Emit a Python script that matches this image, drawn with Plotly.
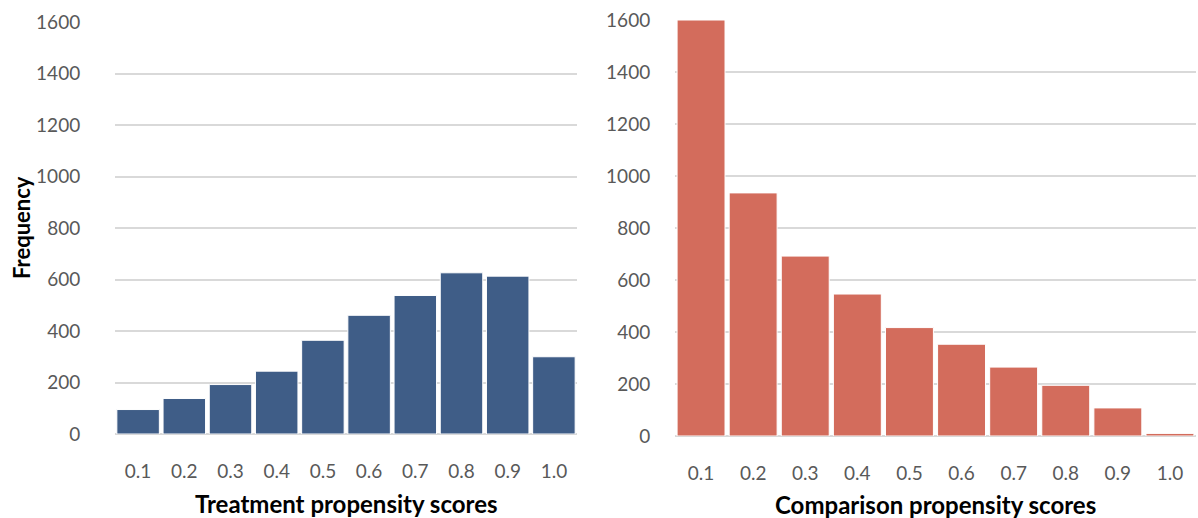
import plotly.graph_objects as go

# Propensity score bins and frequencies
score_bins = ["0.1", "0.2", "0.3", "0.4", "0.5", "0.6", "0.7", "0.8", "0.9", "1.0"]
treatment_freq = [95, 138, 192, 244, 364, 461, 538, 626, 613, 300]
comparison_freq = [1600, 935, 692, 546, 417, 353, 265, 195, 108, 10]
y_ticks = [0, 200, 400, 600, 800, 1000, 1200, 1400, 1600]

W, H = 1198, 518
FONT = "Lato"
TICK_COLOR = "#595959"
GRID = "#D9D9D9"

fig = go.Figure()
fig.add_trace(go.Bar(x=score_bins, y=treatment_freq, xaxis="x", yaxis="y",
                     marker=dict(color="#3F5D87", line=dict(color="white", width=1)),
                     showlegend=False))
fig.add_trace(go.Bar(x=score_bins, y=comparison_freq, xaxis="x2", yaxis="y2",
                     marker=dict(color="#D36C5C", line=dict(color="white", width=1)),
                     showlegend=False))

def px_x(px):
    return px / W

def px_y(py):
    return 1 - py / H

xcommon = dict(type="category", showgrid=False, zeroline=False, showline=False,
               automargin=False, ticks="outside", ticklen=20,
               tickcolor="rgba(0,0,0,0)",
               tickfont=dict(family=FONT, size=19, color=TICK_COLOR))
ycommon = dict(range=[0, 1600], tickvals=y_ticks, showgrid=True, gridcolor=GRID,
               gridwidth=1.5, zeroline=True, zerolinecolor=GRID, zerolinewidth=1.5,
               showline=False, automargin=False, ticks="outside",
               tickcolor="rgba(0,0,0,0)",
               tickfont=dict(family=FONT, size=19, color=TICK_COLOR))

title_font = dict(family=FONT, size=24, color="black")

fig.update_layout(
    width=W, height=H, autosize=False,
    margin=dict(l=0, r=0, t=0, b=0, pad=0, autoexpand=False),
    paper_bgcolor="white", plot_bgcolor="white",
    bargap=0.08,
    xaxis=dict(domain=[px_x(115), px_x(577)], anchor="y", **xcommon),
    yaxis=dict(domain=[px_y(434), px_y(22)], anchor="x", ticklen=30, **ycommon),
    xaxis2=dict(domain=[px_x(675), px_x(1196)], anchor="y2", **xcommon),
    yaxis2=dict(domain=[px_y(436), px_y(20)], anchor="x2", ticklen=20, **ycommon),
    annotations=[
        dict(text="<b>Treatment propensity scores</b>", x=px_x(346), y=px_y(503),
             xanchor="center", yanchor="middle",
             xref="paper", yref="paper", showarrow=False, font=title_font),
        dict(text="<b>Comparison propensity scores</b>", x=px_x(935), y=px_y(504),
             xanchor="center", yanchor="middle",
             xref="paper", yref="paper", showarrow=False, font=title_font),
        dict(text="<b>Frequency</b>", x=px_x(21), y=px_y(228), textangle=-90,
             xanchor="center", yanchor="middle",
             xref="paper", yref="paper", showarrow=False,
             font=dict(family=FONT, size=22, color="black")),
    ],
)

fig.write_html("out.html")
